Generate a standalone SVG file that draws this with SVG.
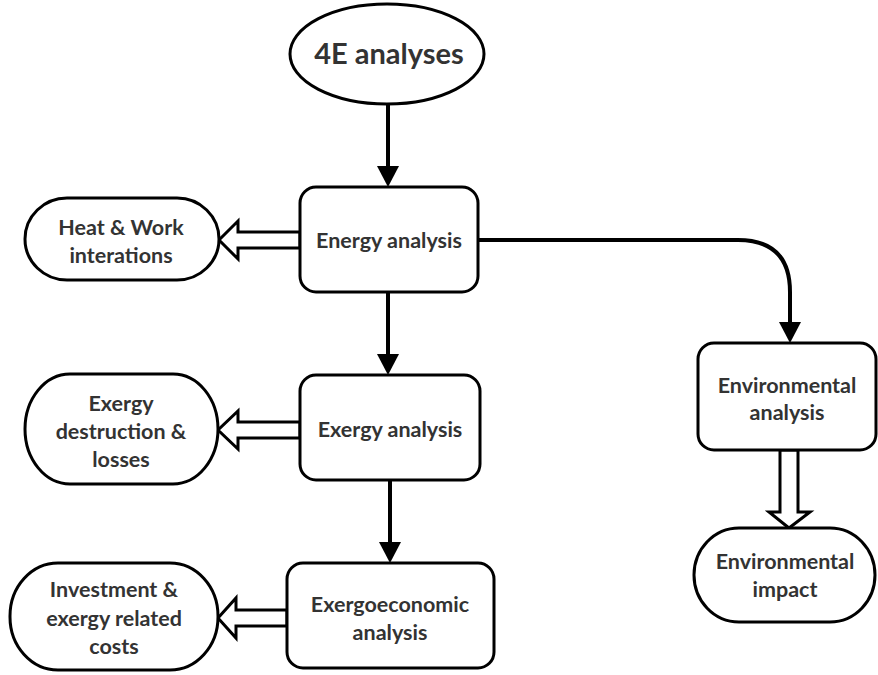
<svg xmlns="http://www.w3.org/2000/svg" width="878" height="675" viewBox="0 0 878 675">
<defs>
<style>
.box{fill:#fff;stroke:#000;stroke-width:3}
.t{font-family:Lato,"Open Sans","Liberation Sans",sans-serif;font-weight:bold;font-size:21.5px;fill:#333;text-anchor:middle}
.big{font-size:29px}
.ln{fill:none;stroke:#000;stroke-width:4}
.hd{fill:#000;stroke:none}
.hollow{fill:#fff;stroke:#000;stroke-width:3;stroke-linejoin:miter}
</style>
</defs>
<rect width="878" height="675" fill="#fff"/>
<g id="connectors">
<line class="ln" x1="388" y1="104" x2="388" y2="168"/>
<polygon class="hd" points="377,166 399,166 388,187"/>
<line class="ln" x1="388" y1="292" x2="388" y2="356"/>
<polygon class="hd" points="377,354 399,354 388,375"/>
<line class="ln" x1="390" y1="480" x2="390" y2="544"/>
<polygon class="hd" points="379,542 401,542 390,563"/>
<path class="ln" d="M478,240 H738 Q790,240 790,292 V324"/>
<polygon class="hd" points="779,322 801,322 790,343"/>
<polygon class="hollow" points="300,232 238,232 238,221 219,240 238,259 238,248 300,248"/>
<polygon class="hollow" points="300,422 238,422 238,411 218,430 238,449 238,438 300,438"/>
<polygon class="hollow" points="287,610 236,610 236,598 218,618 236,638 236,626 287,626"/>
<polygon class="hollow" points="780,450 780,512 769,512 789,528 810,512 798,512 798,450"/>
</g>
<g id="n4e">
<ellipse class="box" cx="387" cy="54" rx="97" ry="50"/>
<text class="t big" x="389" y="64">4E analyses</text>
</g>
<g id="energy">
<rect class="box" x="300" y="187" width="178" height="105" rx="16"/>
<text class="t" x="389" y="248">Energy analysis</text>
</g>
<g id="heat">
<rect class="box" x="25" y="198" width="194" height="82" rx="42" ry="41"/>
<text class="t" x="121" y="235">Heat &amp; Work</text>
<text class="t" x="121" y="263">interations</text>
</g>
<g id="exergy">
<rect class="box" x="300" y="375" width="180" height="105" rx="16"/>
<text class="t" x="390" y="437">Exergy analysis</text>
</g>
<g id="exdest">
<rect class="box" x="25" y="374" width="193" height="110" rx="45" ry="55"/>
<text class="t" x="121" y="411">Exergy</text>
<text class="t" x="121" y="439">destruction &amp;</text>
<text class="t" x="121" y="467">losses</text>
</g>
<g id="exergoeco">
<rect class="box" x="287" y="563" width="207" height="105" rx="16"/>
<text class="t" x="390" y="612">Exergoeconomic</text>
<text class="t" x="390" y="640">analysis</text>
</g>
<g id="invest">
<rect class="box" x="10" y="563" width="208" height="107" rx="48" ry="53"/>
<text class="t" x="114" y="597">Investment &amp;</text>
<text class="t" x="114" y="626">exergy related</text>
<text class="t" x="114" y="654">costs</text>
</g>
<g id="envan">
<rect class="box" x="698" y="343" width="178" height="107" rx="16"/>
<text class="t" x="787" y="393">Environmental</text>
<text class="t" x="787" y="420">analysis</text>
</g>
<g id="envimp">
<rect class="box" x="694" y="528" width="181" height="94" rx="45" ry="47"/>
<text class="t" x="785" y="569">Environmental</text>
<text class="t" x="785" y="597">impact</text>
</g>
</svg>
